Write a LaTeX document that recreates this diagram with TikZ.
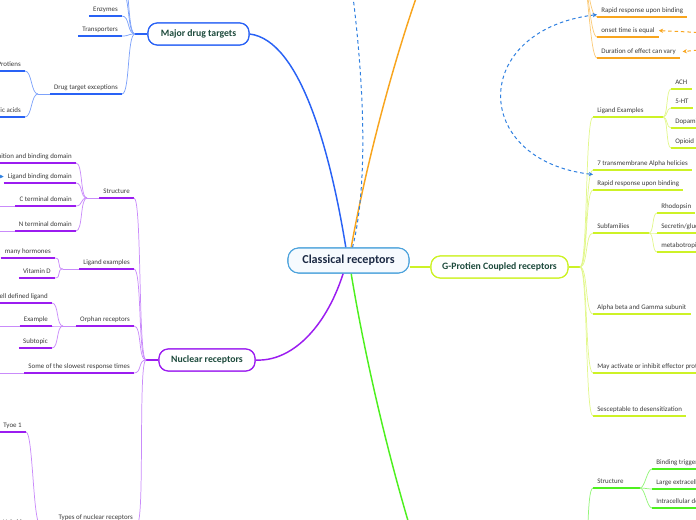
\documentclass[tikz,border=0pt]{standalone}
\usepackage{fontspec}
\setmainfont{Carlito}
\usetikzlibrary{arrows.meta}
\definecolor{cBlue}{HTML}{2962F5}
\definecolor{cBlueL}{HTML}{7DA2FA}
\definecolor{cPur}{HTML}{9B1CF0}
\definecolor{cPurL}{HTML}{C98BFA}
\definecolor{cYel}{HTML}{CDF226}
\definecolor{cYelL}{HTML}{E2F78C}
\definecolor{cGrn}{HTML}{4DF01E}
\definecolor{cGrnL}{HTML}{94F57A}
\definecolor{cOra}{HTML}{F8A51E}
\definecolor{cOraL}{HTML}{FBCB7A}
\definecolor{cDash}{HTML}{2F80E0}
\definecolor{cCtr}{HTML}{4DA3DC}
\definecolor{cCtrF}{HTML}{F6FAFE}
\definecolor{cTitle}{HTML}{1D4A3C}
\definecolor{cCtrT}{HTML}{1C2A44}
\definecolor{cLeaf}{HTML}{3A3A3A}
\tikzset{
 leaf/.style={inner xsep=3pt, inner ysep=2.25pt, text height=3.6pt, text depth=1.1pt, font=\fontsize{5.2}{6}\selectfont, text=cLeaf},
 lw/.style={leaf, anchor=south east},
 le/.style={leaf, anchor=south west},
 title/.style={draw, rounded corners=7pt, line width=0.9pt, fill=white, text=cTitle, font=\bfseries\fontsize{7.3}{9}\selectfont, minimum height=16.5pt, inner sep=0pt},
 ctitle/.style={draw=cCtr, fill=cCtrF, rounded corners=8pt, line width=0.8pt, text=cCtrT, font=\bfseries\fontsize{9.1}{11}\selectfont, minimum width=90.75pt, minimum height=18.75pt, inner sep=0pt},
 branch/.style={line width=1.1pt},
 ul/.style={line width=1.1pt},
 cn/.style={line width=0.55pt},
 ddash/.style={draw=cDash, line width=0.75pt, dash pattern=on 2.6pt off 2.2pt},
 odash/.style={draw=cOra, line width=0.75pt, dash pattern=on 2.6pt off 2.2pt},
 tipb/.style={-{Stealth[length=3.2pt,width=3.2pt]}},
}
\begin{document}
\begin{tikzpicture}[x=0.75pt,y=-0.75pt]
\useasboundingbox (0,0) rectangle (696,520);
\clip (0,0) rectangle (696,520);

% off-screen targets and junctions
\coordinate (otop) at (430,-40);
\coordinate (dtop) at (348,-40);
\coordinate (gbot) at (420,560);
\coordinate (mj) at (135,34);
\coordinate (nj) at (146,360);
\coordinate (gj) at (580,267);
\coordinate (oj) at (583,-22);
\coordinate (grj) at (584,570);
\coordinate (mt1) at (122,-8);
\coordinate (mt2) at (122,-28);

% main title nodes (positions)
\node[ctitle] (c) at (348.5,260.5) {Classical receptors};
\node[title, draw=cBlue, minimum width=75.75pt] (mdt) at (198.5,34) {Major drug targets};
\node[title, draw=cPur, minimum width=72pt] (nr) at (207,360) {Nuclear receptors};
\node[title, draw=cYel, minimum width=102.75pt] (gp) at (499.5,267) {G-Protien Coupled receptors};

% main branches
\draw[branch, cBlue] ([xshift=-2pt]c.north) .. controls (330,150) and (300,40) .. (mdt.east);
\draw[branch, cOra] ([xshift=2pt]c.north) .. controls (365,170) and (395,50) .. (otop);
\draw[ddash] ([xshift=3pt]c.north) .. controls (372,170) and (360,40) .. (dtop);
\draw[branch, cPur] ([xshift=-4pt]c.south) .. controls (325,330) and (290,362) .. (nr.east);
\draw[branch, cGrn] ([xshift=2pt]c.south) .. controls (362,340) and (385,450) .. (gbot);
\draw[cn, cYel, line width=0.8pt] (gp.west -| c.east) -- (gp.west);

% redraw boxes on top
\node[ctitle] at (c) {Classical receptors};
\node[title, draw=cBlue, minimum width=75.75pt] at (mdt) {Major drug targets};
\node[title, draw=cPur, minimum width=72pt] at (nr) {Nuclear receptors};
\node[title, draw=cYel, minimum width=102.75pt] at (gp) {G-Protien Coupled receptors};

\draw[branch, cBlue] (mdt.west) -- (mj);
\draw[branch, cPur] (nr.west) -- (nj);
\draw[branch, cYel] (gp.east) -- (gj);

% ---------- Major drug targets ----------
\node[lw] (m1) at (122,16) {Enzymes};
\node[lw] (m2) at (122,36) {Transporters};
\node[lw] (m3) at (122,94) {Drug target exceptions};
\node[lw] (m31) at (25,71) {Protiens};
\node[lw] (m32) at (25,117) {Nucleic acids};
\coordinate (mj3) at (38,94);
\foreach \n in {m1,m2,m3,m31,m32} \draw[ul, cBlue] (\n.south west) -- (\n.south east);
\foreach \n in {m1,m2,m3,mt1,mt2} \draw[cn, cBlueL] (mj) .. controls +(-8,0) and +(8,0) .. (\n.south east);
\draw[cn, cBlueL] (m3.south west) -- (mj3);
\foreach \n in {m31,m32} \draw[cn, cBlueL] (mj3) .. controls +(-7,0) and +(7,0) .. (\n.south east);

% ---------- Nuclear receptors ----------
\node[lw] (n1) at (134,198) {Structure};
\node[lw] (n11) at (76,163) {DNA recognition and binding domain};
\node[lw] (n12) at (76,183) {Ligand binding domain};
\node[lw] (n13) at (76,206) {C terminal domain};
\node[lw] (n14) at (76,231) {N terminal domain};
\node[lw] (n2) at (134,269) {Ligand examples};
\node[lw] (n21) at (55,258) {many hormones};
\node[lw] (n22) at (55,278) {Vitamin D};
\node[lw] (n3) at (134,326) {Orphan receptors};
\node[lw] (n31) at (52,303) {No well defined ligand};
\node[lw] (n32) at (52,326) {Example};
\node[lw] (n33) at (52,348) {Subtopic};
\node[lw] (n4) at (134,373) {Some of the slowest response times};
\node[lw] (n5) at (137,524) {Types of nuclear receptors};
\node[lw] (n51) at (26,432) {Tyoe 1};
\node[lw] (n52) at (26,529) {Hybrid};
\coordinate (nj1) at (87,198);
\coordinate (nj2) at (63,269);
\coordinate (nj3) at (63,326);
\coordinate (nj5) at (40,524);
\foreach \n in {n1,n11,n12,n13,n14,n2,n21,n22,n3,n31,n32,n33,n4,n5,n51,n52} \draw[ul, cPur] (\n.south west) -- (\n.south east);
\foreach \n in {n1,n2,n3,n4,n5} \draw[cn, cPurL] (nj) .. controls +(-8,0) and +(8,0) .. (\n.south east);
\draw[cn, cPurL] (n1.south west) -- (nj1);
\draw[cn, cPurL] (n2.south west) -- (nj2);
\draw[cn, cPurL] (n3.south west) -- (nj3);
\draw[cn, cPurL] (n5.south west) -- (nj5);
\foreach \n in {n11,n12,n13,n14} \draw[cn, cPurL] (nj1) .. controls +(-7,0) and +(7,0) .. (\n.south east);
\foreach \n in {n21,n22} \draw[cn, cPurL] (nj2) .. controls +(-7,0) and +(7,0) .. (\n.south east);
\foreach \n in {n31,n32,n33} \draw[cn, cPurL] (nj3) .. controls +(-7,0) and +(7,0) .. (\n.south east);
\foreach \n in {n51,n52} \draw[cn, cPurL] (nj5) .. controls +(-7,0) and +(7,0) .. (\n.south east);
\foreach \n in {n13,n14,n32,n4} \draw[cn, cPurL] (\n.south west) -- ++(-30,0);
\coordinate (lba) at (-20,176);
\draw[ddash, tipb] (lba) -- (n12.west);

% ---------- GPCR ----------
\node[le] (g1) at (593,117) {Ligand Examples};
\node[le] (g11) at (671,89) {ACH};
\node[le] (g12) at (671,108) {5-HT};
\node[le] (g13) at (671,128) {Dopamine};
\node[le] (g14) at (671,148) {Opioid};
\node[le] (g2) at (593,170) {7 transmembrane Alpha helicies};
\node[le] (g3) at (593,190) {Rapid response upon binding};
\node[le] (g4) at (593,233) {Subfamilies};
\node[le] (g41) at (657,213) {Rhodopsin};
\node[le] (g42) at (657,233) {Secretin/glucagon};
\node[le] (g43) at (657,252) {metabotropic glutamate};
\node[le] (g5) at (593,314) {Alpha beta and Gamma subunit};
\node[le] (g6) at (593,373) {May activate or inhibit effector proteins};
\node[le] (g7) at (593,416) {Sesceptable to desensitization};
\coordinate (gj1) at (663,117);
\coordinate (gj4) at (649,233);
\foreach \n in {g11,g12,g13,g14,g2,g3,g41,g42,g43,g5,g6,g7} \draw[ul, cYel] (\n.south west) -- (\n.south east);
\draw[ul, cYel] (g1.south west) -- (gj1);
\draw[ul, cYel] (g4.south west) -- (gj4);
\foreach \n in {g1,g2,g3,g4,g5,g6,g7} \draw[cn, cYelL] (gj) .. controls +(8,0) and +(-8,0) .. (\n.south west);
\foreach \n in {g11,g12,g13,g14} \draw[cn, cYelL] (gj1) .. controls +(5,0) and +(-5,0) .. (\n.south west);
\foreach \n in {g41,g42,g43} \draw[cn, cYelL] (gj4) .. controls +(5,0) and +(-5,0) .. (\n.south west);

% ---------- Orange branch children ----------
\node[le] (o1) at (597,17) {Rapid response upon binding};
\node[le] (o2) at (597,37) {onset time is equal};
\node[le] (o3) at (597,58) {Duration of effect can vary};
\foreach \n in {o1,o2,o3} \draw[ul, cOra] (\n.south west) -- (\n.south east);
\foreach \n in {o1,o2,o3} \draw[cn, cOraL] (oj) .. controls +(5,0) and +(-7,0) .. (\n.south west);
\coordinate (oa2) at (710,33);
\coordinate (oa3) at (710,49);
\draw[odash, tipb] (oa2) -- (o2.east);
\draw[odash, tipb] (oa3) -- ([xshift=2pt]o3.east);

% ---------- Green branch children ----------
\node[le] (r1) at (593,488) {Structure};
\node[le] (r11) at (652,469) {Binding triggers};
\node[le] (r12) at (652,489) {Large extracellular domain};
\node[le] (r13) at (652,508) {Intracellular domain};
\coordinate (rj1) at (640,488);
\draw[ul, cGrn] (r1.south west) -- (rj1);
\foreach \n in {r11,r12,r13} \draw[ul, cGrn] (\n.south west) -- (\n.south east);
\draw[cn, cGrnL] (grj) .. controls +(5,0) and +(-7,0) .. (r1.south west);
\foreach \n in {r11,r12,r13} \draw[cn, cGrnL] (rj1) .. controls +(5,0) and +(-5,0) .. (\n.south west);

% ---------- dashed relation between the two "Rapid response" topics ----------
\draw[ddash, {Stealth[length=3.2pt,width=3.2pt]}-{Stealth[length=3.2pt,width=3.2pt]}]
  ([yshift=-3pt]o1.west) .. controls (470,30) and (470,160) .. ([yshift=2pt]g3.north west);
\end{tikzpicture}
\end{document}
